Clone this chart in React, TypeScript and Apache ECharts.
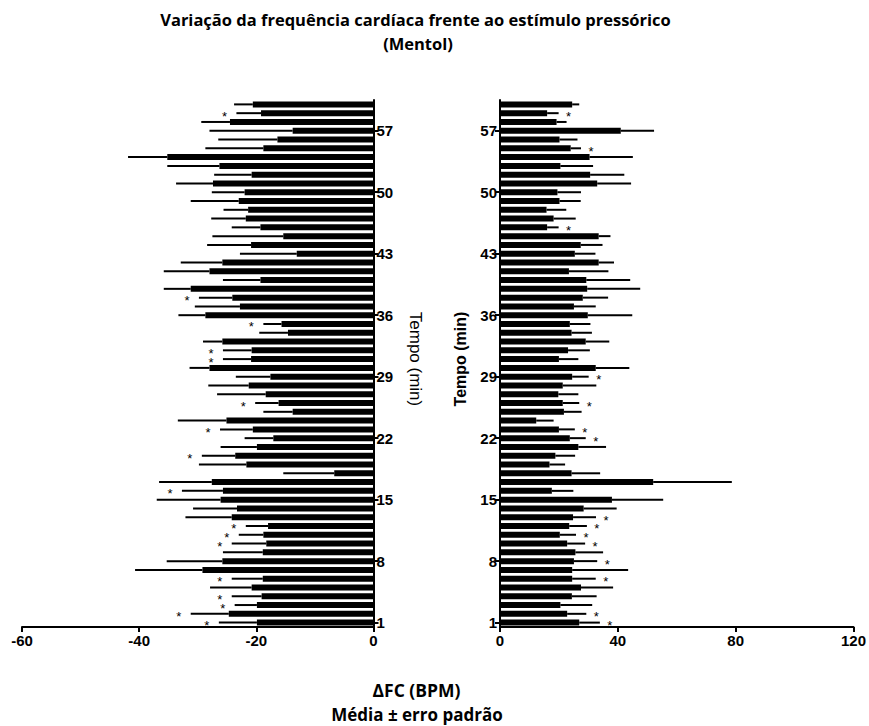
import React, { useEffect, useRef } from "react";
import * as echarts from "echarts";

const minutes = [
  "1","2","3","4","5","6","7","8","9","10","11","12","13","14","15","16","17","18","19","20",
  "21","22","23","24","25","26","27","28","29","30","31","32","33","34","35","36","37","38","39","40",
  "41","42","43","44","45","46","47","48","49","50","51","52","53","54","55","56","57","58","59","60",
];
const yTickLabels = ["1", "8", "15", "22", "29", "36", "43", "50", "57"];

const leftMean = [
  -19.9, -24.7, -19.9, -19.1, -20.8, -18.9, -29.2, -25.8, -18.9, -18.3,
  -18.8, -18.0, -24.2, -23.3, -26.1, -25.7, -27.6, -6.7, -21.7, -23.6,
  -19.9, -17.1, -20.6, -25.1, -13.8, -16.2, -18.4, -21.3, -17.6, -28.0,
  -20.9, -20.8, -25.8, -14.6, -15.7, -28.7, -22.8, -24.1, -31.2, -19.3,
  -28.0, -25.8, -13.1, -20.9, -15.4, -19.3, -21.8, -21.4, -23.0, -22.0,
  -27.4, -20.8, -26.3, -35.2, -18.8, -16.4, -13.8, -24.5, -19.2, -20.6,
];
const leftSem = [
  6.5, 6.5, 3.8, 5.1, 7.1, 5.3, 11.5, 9.5, 6.8, 5.9,
  4.2, 3.8, 7.9, 7.5, 10.9, 7.0, 9.0, 8.7, 8.1, 5.7,
  6.2, 4.9, 5.6, 8.3, 5.0, 4.0, 8.3, 6.9, 5.9, 3.4,
  4.8, 4.9, 3.3, 4.9, 3.1, 4.6, 7.7, 5.7, 4.6, 6.4,
  7.8, 7.1, 9.7, 7.5, 12.1, 4.9, 5.9, 4.2, 8.2, 5.6,
  6.3, 6.4, 8.9, 6.7, 9.9, 10.1, 14.2, 4.9, 4.2, 3.2,
];
const rightMean = [
  26.9, 22.8, 20.5, 24.4, 27.5, 24.5, 24.5, 25.1, 25.6, 22.8,
  20.3, 23.5, 24.8, 28.4, 38.0, 17.6, 52.0, 24.3, 16.8, 18.8,
  26.6, 23.7, 20.0, 12.3, 21.7, 21.3, 19.8, 21.3, 24.5, 32.5,
  20.0, 23.1, 29.1, 24.3, 23.7, 29.8, 25.1, 28.1, 29.6, 29.3,
  23.4, 33.5, 25.4, 27.4, 33.5, 16.0, 18.2, 15.8, 20.2, 19.5,
  33.0, 30.6, 20.5, 30.4, 24.0, 20.2, 41.0, 19.2, 16.0, 24.5,
];
const rightSem = [
  7.0, 6.5, 10.8, 8.4, 10.9, 8.0, 19.0, 7.9, 9.4, 6.1,
  5.5, 6.0, 7.8, 11.2, 17.4, 7.3, 26.7, 9.7, 5.3, 6.7,
  9.4, 5.4, 5.4, 5.9, 6.0, 5.6, 6.8, 11.4, 5.6, 11.4,
  6.6, 7.4, 8.0, 6.9, 7.0, 15.1, 7.4, 8.6, 18.0, 14.9,
  13.4, 5.2, 7.0, 7.4, 4.0, 3.9, 7.5, 6.7, 7.2, 8.0,
  11.5, 11.6, 11.1, 14.7, 3.5, 6.1, 11.3, 3.4, 3.9, 2.4,
];
const leftStars = [1, 2, 3, 4, 6, 10, 11, 12, 16, 20, 23, 26, 31, 32, 35, 38, 59];
const rightStars = [1, 2, 6, 8, 10, 11, 12, 13, 22, 23, 26, 29, 46, 55, 59];

const FONT = "Liberation Sans";
const TITLE_FONT = "Open Sans";

export default function App() {
  const ref = useRef<HTMLDivElement>(null);

  useEffect(() => {
    if (!ref.current) return;
    const chart = echarts.init(ref.current, null, { renderer: "svg" });

    const axisLineStyle = { color: "#000", width: 2 };
    const tickLabel = { color: "#000", fontFamily: FONT, fontWeight: "bold" as const, fontSize: 15 };
    const showTick = (_i: number, v: string) => yTickLabels.indexOf(v) >= 0;

    const catAxis = (gridIndex: number, position: "left" | "right") => ({
      type: "category" as const,
      gridIndex,
      position,
      data: minutes,
      boundaryGap: true,
      axisLine: { show: true, onZero: false, lineStyle: axisLineStyle },
      axisTick: { show: true, alignWithLabel: true, interval: showTick, length: 5, lineStyle: { color: "#000", width: 2 } },
      axisLabel: { show: true, interval: showTick, margin: 3, ...tickLabel },
      splitLine: { show: false },
    });
    const valAxis = (gridIndex: number, min: number, max: number, interval: number) => ({
      type: "value" as const,
      gridIndex,
      min,
      max,
      interval,
      position: "bottom" as const,
      axisLine: { show: true, onZero: false, lineStyle: axisLineStyle },
      axisTick: { show: true, length: 5, lineStyle: { color: "#000", width: 2 } },
      axisLabel: { show: true, margin: 6, ...tickLabel },
      splitLine: { show: false },
    });

    const errRender = (_p: any, api: any) => {
      const y = api.value(1);
      const p0 = api.coord([api.value(0), y]);
      const p1 = api.coord([api.value(2), y]);
      return {
        type: "line",
        shape: { x1: p0[0], y1: p0[1], x2: p1[0], y2: p1[1] },
        style: { stroke: "#000", lineWidth: 2 },
      };
    };
    const starRender = (dx: number) => (_p: any, api: any) => {
      const p = api.coord([api.value(0), api.value(1)]);
      return {
        type: "text",
        x: p[0] + dx,
        y: p[1] + 3,
        style: {
          text: "*",
          fill: "#000",
          fontSize: 13,
          lineHeight: 7,
          fontFamily: FONT,
          align: "center",
          verticalAlign: "middle",
        },
      };
    };

    const top = 100;
    const height = 527;

    const centered = (text: string, x: number, y: number, fontSize: number) => ({
      type: "text",
      x,
      y,
      style: {
        text,
        fill: "#000",
        fontFamily: TITLE_FONT,
        fontWeight: "bold",
        fontSize,
        align: "center",
        verticalAlign: "middle",
      },
    });

    chart.setOption({
      animation: false,
      backgroundColor: "#fff",
      grid: [
        { left: 22, width: 351.5, top, height },
        { left: 500, width: 354, top, height },
      ],
      xAxis: [valAxis(0, -60, 0, 20), valAxis(1, 0, 120, 40)],
      yAxis: [catAxis(0, "right"), catAxis(1, "left")],
      series: [
        {
          type: "bar",
          xAxisIndex: 0,
          yAxisIndex: 0,
          data: leftMean,
          barWidth: 6,
          itemStyle: { color: "#000" },
        },
        {
          type: "custom",
          xAxisIndex: 0,
          yAxisIndex: 0,
          encode: { x: [0, 2], y: 1 },
          data: leftMean.map((m, i) => [m, i, m - leftSem[i]]),
          renderItem: errRender,
          z: 3,
        },
        {
          type: "custom",
          xAxisIndex: 0,
          yAxisIndex: 0,
          encode: { x: 0, y: 1 },
          data: leftStars.map((n) => [leftMean[n - 1] - leftSem[n - 1], n - 1]),
          renderItem: starRender(-12),
          z: 4,
        },
        {
          type: "bar",
          xAxisIndex: 1,
          yAxisIndex: 1,
          data: rightMean,
          barWidth: 6,
          itemStyle: { color: "#000" },
        },
        {
          type: "custom",
          xAxisIndex: 1,
          yAxisIndex: 1,
          encode: { x: [0, 2], y: 1 },
          data: rightMean.map((m, i) => [m, i, m + rightSem[i]]),
          renderItem: errRender,
          z: 3,
        },
        {
          type: "custom",
          xAxisIndex: 1,
          yAxisIndex: 1,
          encode: { x: 0, y: 1 },
          data: rightStars.map((n) => [rightMean[n - 1] + rightSem[n - 1], n - 1]),
          renderItem: starRender(10),
          z: 4,
        },
      ],
      graphic: [
        centered("Variação da frequência cardíaca frente ao estímulo pressórico", 415.5, 19.5, 16.5),
        centered("(Mentol)", 418, 43.5, 16.5),
        {
          type: "text",
          x: 415,
          y: 359,
          rotation: -Math.PI / 2,
          style: { text: "Tempo (min)", fill: "#000", fontFamily: FONT, fontSize: 17, align: "center", verticalAlign: "middle" },
        },
        {
          type: "text",
          x: 460,
          y: 359,
          rotation: Math.PI / 2,
          style: { text: "Tempo (min)", fill: "#000", fontFamily: FONT, fontWeight: "bold", fontSize: 16, align: "center", verticalAlign: "middle" },
        },
        centered("ΔFC (BPM)", 416.5, 689.5, 17.5),
        centered("Média ± erro padrão", 417, 714, 17),
      ],
    });

    return () => chart.dispose();
  }, []);

  return <div ref={ref} style={{ position: "fixed", left: 0, top: 0, width: 869, height: 726 }} />;
}
